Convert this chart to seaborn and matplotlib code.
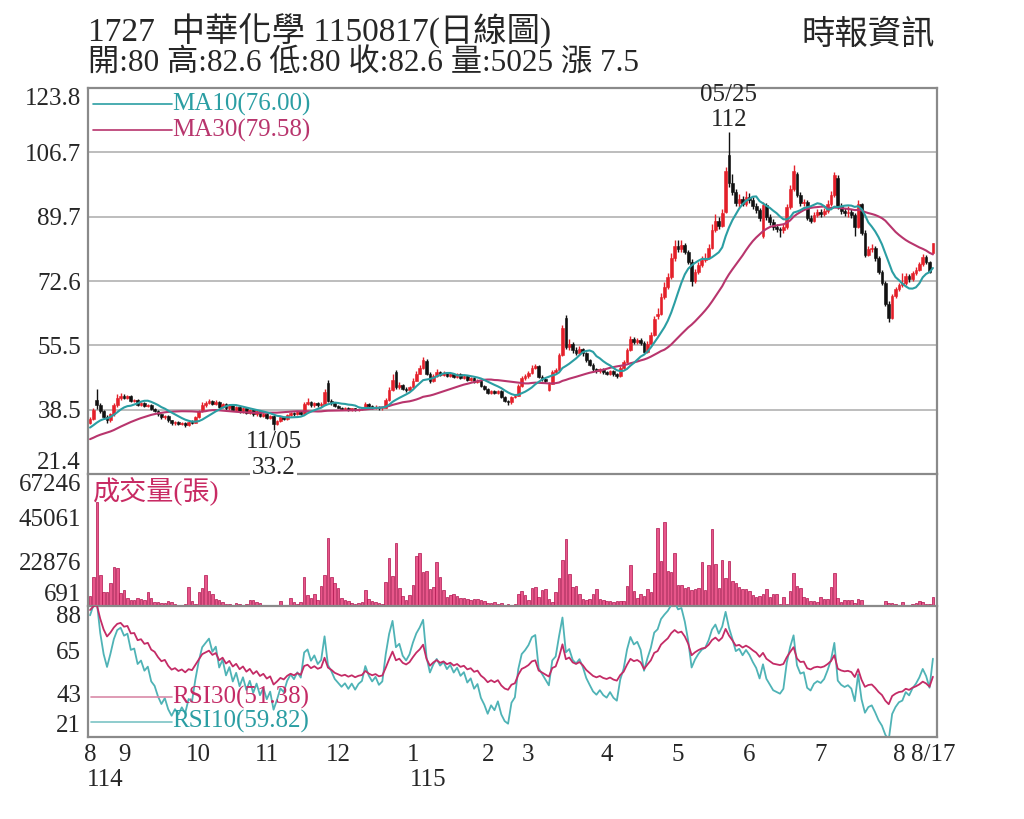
#!/usr/bin/env python3

import matplotlib

matplotlib.use("Agg")

import matplotlib.pyplot as plt
import numpy as np
import pandas as pd
import seaborn as sns

# month ticks (trading-day index) and ROC year labels
month_labels = ["8", "9", "10", "11", "12", "1", "2", "3", "4", "5", "6", "7", "8", "8/17"]
month_starts = [0, 10, 32, 52, 73, 95, 117, 129, 152, 173, 194, 215, 238, 248]
year_labels = ["114", "115"]
year_starts = [0, 95]

price_ticks = [21.4, 38.5, 55.5, 72.6, 89.7, 106.7, 123.8]
volume_ticks = [691, 22876, 45061, 67246]
rsi_ticks = [21, 43, 65, 88]

# closes before the first visible day (only feed the MA / RSI)
prior_closes = [
    26.5, 27.0, 26.7, 27.3, 27.8, 27.4, 28.0, 28.5, 28.1, 28.6,
    29.2, 28.8, 29.4, 30.0, 29.5, 30.2, 30.8, 30.4, 31.2, 31.8,
    31.4, 32.2, 32.8, 32.3, 33.0, 33.8, 33.3, 34.0, 34.8, 35.0,
]

opens = [
    # 2025-08
    35.0, 36.0, 41.0, 39.6, 38.0, 36.6, 35.6, 37.2, 39.6, 41.6,
    # 09
    42.2, 41.6, 42.0, 40.8, 41.0, 39.8, 40.2, 39.4, 39.8, 38.6,
    38.2, 37.2, 36.4, 36.8, 35.6, 34.8, 35.2, 34.6, 35.0, 34.4, 35.2, 35.0,
    # 10
    36.4, 38.0, 39.6, 40.2, 40.8, 40.0, 40.6, 39.2, 40.0, 38.8,
    39.6, 38.4, 39.2, 38.0, 38.8, 37.6, 38.4, 37.2, 38.0, 36.8,
    # 11
    37.4, 36.2, 36.8, 34.6, 35.4, 36.4, 36.0, 37.0, 37.6, 37.2,
    37.8, 37.4, 40.0, 40.4, 39.6, 40.2, 39.6, 40.0, 45.6, 40.8, 40.2,
    # 12
    39.4, 39.0, 38.6, 38.9, 38.4, 38.8, 38.3, 38.7, 38.9, 40.0,
    39.4, 39.0, 39.3, 38.8, 39.0, 41.0, 43.6, 48.4, 44.4, 45.0, 44.0, 43.6,
    # 2026-01
    44.4, 46.2, 48.0, 49.4, 51.4, 48.0, 46.0, 47.4, 48.4, 47.6,
    48.2, 47.4, 48.0, 47.2, 47.8, 47.0, 47.4, 46.4, 46.8, 45.8, 46.2, 44.8,
    # 02
    44.0, 42.8, 43.4, 42.8, 43.4, 41.8, 40.8, 40.4, 41.8, 42.2, 44.8, 46.8,
    # 03
    47.4, 48.2, 49.6, 50.0, 47.2, 46.6, 43.8, 45.4, 48.4, 49.0,
    53.0, 62.8, 55.0, 56.0, 54.2, 53.6, 54.6, 53.4, 51.6, 50.4, 49.2, 48.6, 49.2,
    # 04
    48.4, 48.0, 48.6, 47.8, 47.4, 49.6, 51.0, 54.2, 57.2, 56.4,
    57.0, 56.2, 53.8, 56.0, 58.2, 63.4, 63.8, 68.4, 71.0, 73.6, 78.6,
    # 05
    82.0, 81.0, 82.2, 80.4, 77.6, 72.6, 75.0, 76.8, 78.2, 78.8,
    81.4, 86.0, 88.6, 87.2, 91.0, 106.0, 98.6, 96.2, 93.4, 94.4, 93.0,
    # 06
    95.0, 94.0, 92.6, 91.4, 84.6, 92.8, 89.6, 88.2, 86.8, 86.4,
    86.0, 86.8, 92.2, 97.0, 101.0, 95.4, 93.2, 93.6, 89.4, 88.6, 90.2,
    # 07
    90.8, 90.4, 91.2, 93.0, 95.4, 100.0, 92.4, 91.2, 90.6, 91.0,
    90.2, 87.0, 93.0, 85.4, 79.6, 81.0, 81.4, 78.6, 75.0, 72.2, 66.6, 62.8, 68.6,
    # 08
    70.4, 71.6, 72.0, 74.0, 73.0, 74.6, 75.6, 77.0, 79.0, 77.6, 80.0,
]

closes = [
    36.0, 38.5, 39.6, 38.0, 36.6, 35.6, 37.2, 39.6, 41.6, 42.2,
    41.6, 42.0, 40.8, 41.0, 39.8, 40.2, 39.4, 39.8, 38.6, 38.2,
    37.2, 36.4, 36.8, 35.6, 34.8, 35.2, 34.6, 35.0, 34.4, 35.2, 35.0, 36.4,
    38.0, 39.6, 40.2, 40.8, 40.0, 40.6, 39.2, 40.0, 38.8, 39.6,
    38.4, 39.2, 38.0, 38.8, 37.6, 38.4, 37.2, 38.0, 36.8, 37.4,
    36.2, 36.8, 34.6, 35.4, 36.4, 36.0, 37.0, 37.6, 37.2, 37.8,
    37.4, 40.0, 40.4, 39.6, 40.2, 39.6, 40.0, 43.2, 40.8, 40.2, 39.4,
    39.0, 38.6, 38.9, 38.4, 38.8, 38.3, 38.7, 38.9, 40.0, 39.4,
    39.0, 39.3, 38.8, 39.0, 41.0, 43.6, 46.4, 44.4, 45.0, 44.0, 43.6, 44.4,
    46.2, 48.0, 49.4, 51.6, 48.0, 46.0, 47.4, 48.4, 47.6, 48.2,
    47.4, 48.0, 47.2, 47.8, 47.0, 47.4, 46.4, 46.8, 45.8, 46.2, 44.8, 44.0,
    42.8, 43.4, 42.8, 43.4, 41.8, 40.8, 40.4, 41.8, 42.2, 44.8, 46.8, 47.4,
    48.2, 49.6, 50.0, 47.2, 46.6, 46.0, 45.4, 48.4, 49.0, 53.0,
    60.0, 55.0, 56.0, 54.2, 53.6, 54.6, 53.4, 51.6, 50.4, 49.2, 48.6, 49.2, 48.4,
    48.0, 48.6, 47.8, 47.4, 49.6, 51.0, 54.2, 57.2, 56.4, 57.0,
    56.2, 53.8, 56.0, 58.2, 62.6, 63.8, 68.4, 71.0, 73.6, 78.6, 82.0,
    81.0, 82.2, 80.4, 77.6, 72.6, 75.0, 76.8, 78.2, 78.8, 81.4,
    86.0, 88.6, 87.2, 90.6, 101.8, 98.6, 96.2, 93.4, 94.4, 93.0, 95.0,
    94.0, 92.6, 91.4, 89.2, 92.8, 89.6, 88.2, 86.8, 86.4, 86.0,
    86.8, 92.2, 97.0, 101.8, 95.4, 93.2, 93.6, 89.4, 88.6, 90.2, 90.8,
    90.4, 91.2, 93.0, 95.4, 100.6, 92.4, 91.2, 90.6, 91.0, 90.2,
    87.0, 93.0, 85.4, 79.6, 81.0, 81.4, 78.6, 75.0, 72.2, 66.6, 62.8, 68.6, 70.4,
    71.6, 72.0, 74.0, 73.0, 74.6, 75.6, 77.0, 79.0, 77.6, 75.1, 82.6,
]

highs = [
    36.6, 39.0, 44.0, 40.2, 38.4, 37.0, 37.6, 40.2, 42.6, 43.0,
    42.6, 42.4, 42.3, 41.4, 41.3, 40.6, 40.5, 40.1, 40.0, 38.9,
    38.4, 37.4, 37.1, 37.0, 35.8, 35.5, 35.4, 35.3, 35.2, 35.5, 35.6, 36.8,
    38.4, 40.4, 40.8, 41.2, 41.0, 40.9, 40.8, 40.3, 40.2, 39.9,
    39.8, 39.5, 39.4, 39.1, 39.0, 38.7, 38.6, 38.3, 38.2, 37.7,
    37.6, 37.1, 37.0, 35.7, 36.7, 36.6, 37.3, 37.9, 37.9, 38.1,
    38.0, 40.6, 41.6, 40.7, 40.6, 40.4, 40.4, 44.0, 46.4, 41.2, 40.5,
    39.7, 39.3, 39.1, 39.1, 39.0, 39.0, 38.9, 39.2, 40.6, 40.3,
    39.7, 39.6, 39.5, 39.3, 41.6, 44.4, 47.8, 49.0, 45.8, 45.4, 44.4, 44.8,
    46.8, 48.6, 50.2, 52.4, 51.8, 48.4, 47.8, 49.2, 48.8, 48.6,
    48.5, 48.3, 48.3, 48.1, 48.1, 47.7, 47.7, 47.1, 47.1, 46.5, 46.4, 45.0,
    44.2, 43.7, 43.6, 43.7, 43.6, 42.0, 41.1, 42.1, 42.6, 45.4, 47.4, 48.0,
    48.8, 50.2, 50.6, 50.2, 47.6, 47.0, 45.8, 49.0, 49.6, 53.6,
    60.8, 63.6, 57.2, 56.4, 55.0, 55.4, 54.8, 53.8, 52.0, 50.8, 49.6, 49.6, 49.6,
    48.8, 49.0, 48.9, 48.2, 50.0, 51.6, 54.8, 58.0, 57.8, 57.6,
    57.4, 56.6, 56.6, 59.0, 63.4, 65.4, 69.4, 72.4, 74.6, 80.0, 83.4,
    83.6, 83.4, 82.8, 80.8, 78.4, 75.8, 77.6, 79.2, 80.0, 82.4,
    87.6, 90.4, 89.6, 91.6, 102.8, 112.0, 101.0, 97.0, 95.6, 95.2, 96.4,
    96.0, 94.8, 93.4, 92.0, 93.6, 93.2, 90.4, 89.0, 87.6, 87.0,
    87.6, 93.0, 98.0, 103.4, 101.6, 96.2, 94.4, 94.0, 90.2, 91.0, 91.6,
    91.8, 92.0, 94.0, 96.4, 101.6, 100.6, 93.2, 92.0, 92.6, 91.6,
    90.6, 94.0, 93.4, 86.0, 82.0, 82.4, 81.8, 79.2, 75.6, 72.6, 67.4, 69.2, 71.0,
    72.0, 74.6, 74.6, 74.4, 75.2, 76.2, 77.6, 79.8, 79.4, 78.0, 82.6,
]

lows = [
    34.6, 35.8, 38.6, 37.6, 36.0, 35.0, 35.2, 36.8, 39.2, 41.0,
    41.2, 41.3, 40.5, 40.5, 39.5, 39.5, 39.1, 39.1, 38.3, 37.9,
    36.9, 36.1, 36.1, 35.3, 34.4, 34.5, 34.3, 34.3, 34.0, 34.2, 34.7, 34.8,
    36.2, 37.8, 39.3, 39.9, 39.7, 39.7, 38.9, 38.9, 38.5, 38.5,
    38.1, 38.1, 37.7, 37.7, 37.3, 37.3, 36.9, 36.9, 36.5, 36.5,
    35.9, 35.9, 33.2, 34.3, 35.2, 35.7, 35.8, 36.8, 36.9, 37.0,
    37.1, 37.2, 39.7, 39.3, 39.3, 39.3, 39.3, 39.8, 40.4, 39.8, 39.1,
    38.8, 38.3, 38.3, 38.1, 38.1, 38.0, 38.0, 38.4, 38.6, 39.1,
    38.7, 38.7, 38.5, 38.5, 38.8, 40.8, 43.4, 44.0, 44.0, 43.6, 43.2, 43.3,
    44.2, 46.0, 47.8, 49.2, 47.6, 45.6, 45.7, 47.1, 47.3, 47.3,
    47.1, 47.1, 46.9, 46.9, 46.7, 46.7, 46.1, 46.1, 45.5, 45.5, 44.5, 43.7,
    42.5, 42.5, 42.5, 42.5, 41.5, 40.5, 39.7, 40.1, 41.5, 42.0, 44.6, 46.4,
    47.0, 47.8, 49.2, 46.8, 46.2, 45.6, 43.4, 45.2, 48.0, 48.8,
    52.8, 54.6, 54.4, 53.6, 53.0, 53.2, 52.8, 51.2, 50.0, 48.8, 48.2, 48.2, 48.0,
    47.6, 47.6, 47.4, 46.9, 47.2, 49.2, 50.8, 54.0, 55.8, 55.8,
    55.6, 53.4, 53.6, 55.8, 58.0, 62.4, 63.6, 67.8, 70.4, 73.2, 78.0,
    80.2, 80.4, 79.8, 77.0, 71.4, 72.0, 74.4, 76.2, 77.6, 78.4,
    81.0, 85.6, 86.4, 86.8, 90.6, 97.6, 95.4, 92.6, 92.2, 92.4, 92.6,
    93.2, 91.8, 90.6, 88.4, 84.0, 88.8, 87.4, 86.0, 85.6, 84.2,
    85.4, 86.4, 91.8, 96.6, 94.8, 92.4, 92.6, 88.8, 88.0, 88.2, 89.6,
    89.6, 89.8, 90.6, 92.6, 95.0, 91.6, 90.4, 89.8, 89.6, 89.2,
    84.6, 86.6, 84.8, 79.0, 79.2, 80.2, 78.0, 74.4, 71.6, 66.0, 61.7, 62.4, 68.0,
    70.0, 71.0, 71.6, 72.4, 72.6, 74.2, 75.2, 76.6, 77.0, 74.8, 80.0,
]

volumes = [
    5700, 15300, 53100, 16300, 7700, 7700, 12300, 20400, 20000, 7200,
    8700, 4700, 3700, 3700, 4700, 4200, 3700, 7700, 4700, 2700,
    2700, 2200, 2000, 3200, 2700, 1500, 1300, 1200, 1500, 10300, 3200, 1500,
    7700, 9700, 16300, 8200, 6700, 4200, 3700, 2700, 1700, 1700,
    1200, 2000, 1700, 1200, 1500, 3700, 3700, 2700, 2000, 1000,
    1000, 1000, 1000, 1000, 3200, 1000, 1000, 4700, 2700, 1700,
    2700, 15300, 6200, 4700, 6700, 3700, 10800, 16300, 35000, 15300, 12300,
    9700, 4700, 3700, 3200, 2000, 1700, 2000, 2700, 8700, 4200,
    3200, 2700, 2000, 1700, 12800, 24900, 15800, 32500, 9700, 5700, 3700, 6200,
    11300, 25700, 27400, 17800, 18300, 9200, 10300, 22800, 15300, 8700,
    5200, 6200, 6700, 5700, 4700, 4700, 4200, 3700, 4200, 4200, 3700, 3200,
    2400, 2000, 2700, 1500, 2000, 1200, 1500, 1200, 1500, 6700, 8200, 6200,
    3700, 9700, 10300, 5200, 8700, 9200, 4200, 2700, 7700, 15000,
    23900, 34500, 16800, 10300, 10800, 6700, 4200, 3700, 4200, 6700, 9200, 4200, 3700,
    3200, 3200, 2700, 3200, 3200, 3200, 10800, 21400, 8200, 4700,
    6700, 5700, 9200, 7700, 17300, 40000, 23400, 43000, 18300, 17800, 27400,
    11300, 11300, 9700, 10300, 8700, 9200, 9700, 22800, 8700, 21400,
    39500, 21900, 9700, 23900, 14800, 23400, 13300, 12300, 10300, 9200, 9200,
    8200, 6200, 5200, 5700, 6700, 9200, 5200, 6700, 6700, 1700,
    5200, 1500, 8200, 17300, 10800, 9700, 5200, 4700, 3200, 3200, 2700,
    5200, 4200, 4200, 10300, 17300, 4700, 2700, 3700, 3700, 3700,
    2000, 4200, 3700, 1000, 1000, 1000, 1000, 1000, 1000, 3200, 2000, 2000, 1500,
    1200, 2700, 1200, 1200, 1500, 2000, 3200, 2700, 1500, 1500, 5025,
]

RED = "#e4202a"
BLACK = "#111111"
TEAL = "#2b9ea3"
PLUM = "#b8356d"
GRAY = "#8a8a8a"


def rsi(series, n):
    delta = series.diff()
    gain = delta.clip(lower=0).ewm(alpha=1 / n, adjust=False).mean()
    loss = (-delta.clip(upper=0)).ewm(alpha=1 / n, adjust=False).mean()
    return 100 * gain / (gain + loss)


def style_axis(ax):
    for spine in ax.spines.values():
        spine.set_color(GRAY)
        spine.set_linewidth(1.6)
    ax.tick_params(axis="y", length=3, color=GRAY, labelsize=18, pad=2)
    ax.set_xlim(-0.6, len(closes) + 0.2)
    ax.set_xlabel("")
    ax.set_ylabel("")


def main():
    n = len(closes)
    for values in (opens, highs, lows, volumes):
        assert len(values) == n, len(values)

    sns.set_style("white")
    plt.rcParams["font.family"] = ["Liberation Serif", "Noto Sans CJK TC", "DejaVu Sans"]

    idx = np.arange(n)
    o = np.array(opens)
    c = np.array(closes)
    h = np.maximum(np.array(highs), np.maximum(o, c))
    lo = np.minimum(np.array(lows), np.minimum(o, c))

    history = pd.Series(prior_closes + closes)
    skip = len(prior_closes)
    ma10 = history.rolling(10).mean().to_numpy()[skip:]
    ma30 = history.rolling(30).mean().to_numpy()[skip:]
    rsi10 = rsi(history, 10).to_numpy()[skip:]
    rsi30 = rsi(history, 30).to_numpy()[skip:]

    fig = plt.figure(figsize=(10.24, 8.19), dpi=100)
    left, width = 88 / 1024, 849 / 1024
    ax_p = fig.add_axes([left, 1 - 474 / 819, width, 386 / 819])
    ax_v = fig.add_axes([left, 1 - 606 / 819, width, 132 / 819])
    ax_r = fig.add_axes([left, 1 - 737 / 819, width, 131 / 819])

    # --- price panel
    colors = [RED if cc >= oo else BLACK for oo, cc in zip(o, c)]
    ax_p.vlines(idx, lo, h, colors=colors, lw=1.0, zorder=3)
    ax_p.bar(idx, c - o, bottom=o, width=0.8, color=colors, edgecolor=colors, lw=0.4, zorder=3)
    sns.lineplot(x=idx, y=ma30, ax=ax_p, color=PLUM, lw=1.5, zorder=4)
    sns.lineplot(x=idx, y=ma10, ax=ax_p, color=TEAL, lw=1.5, zorder=4)

    ax_p.set_ylim(price_ticks[0], price_ticks[-1])
    ax_p.set_yticks(price_ticks)
    ax_p.set_yticklabels([f"{t:.1f}" for t in price_ticks])
    ax_p.grid(axis="y", color="#b8b8b8", lw=1.3)
    ax_p.set_xticks([])
    style_axis(ax_p)

    for text, y, color in [("MA10(76.00)", 0.958, TEAL), ("MA30(79.58)", 0.891, PLUM)]:
        ax_p.plot([0.006, 0.099], [y, y], transform=ax_p.transAxes, color=color, lw=1.2)
        ax_p.text(0.099, y, text, transform=ax_p.transAxes, color=color,
                  fontsize=18, va="center", ha="left")

    top = int(np.argmax(h))
    ax_p.annotate("112", xy=(top, h[top]), xytext=(0, 9), textcoords="offset points",
                  ha="center", va="center", fontsize=18)
    ax_p.annotate("05/25", xy=(top, h[top]), xytext=(0, 27), textcoords="offset points",
                  ha="center", va="center", fontsize=18)
    low_day = 54
    ax_p.annotate("11/05", xy=(low_day, lo[low_day]), xytext=(0, -9), textcoords="offset points",
                  ha="center", va="center", fontsize=18)
    ax_p.annotate("33.2", xy=(low_day, lo[low_day]), xytext=(0, -28), textcoords="offset points",
                  ha="center", va="center", fontsize=18, zorder=10, annotation_clip=False,
                  bbox=dict(boxstyle="square,pad=0.05", fc="white", ec="none"))

    # --- volume panel
    sns.barplot(x=idx, y=volumes, native_scale=True, ax=ax_v, color="#e8568a",
                edgecolor="#b0124e", linewidth=0.5, saturation=1, errorbar=None, width=0.75)
    ax_v.set_ylim(volume_ticks[0], volume_ticks[-1])
    ax_v.set_yticks(volume_ticks)
    ax_v.set_yticklabels([str(t) for t in volume_ticks])
    ax_v.set_xticks([])
    ax_v.set_facecolor("none")
    style_axis(ax_v)
    ax_v.spines["top"].set_visible(False)
    ax_v.text(0.006, 0.864, "成交量(張)", transform=ax_v.transAxes, color="#c82a63",
              fontsize=19.5, va="center", ha="left")

    # --- RSI panel
    sns.lineplot(x=idx, y=rsi10, ax=ax_r, color="#4fb3b6", lw=1.3)
    sns.lineplot(x=idx, y=rsi30, ax=ax_r, color="#c42b66", lw=1.3)
    ax_r.set_ylim(rsi_ticks[0], rsi_ticks[-1])
    ax_r.set_yticks(rsi_ticks)
    ax_r.set_yticklabels([str(t) for t in rsi_ticks])
    ax_r.set_facecolor("none")
    style_axis(ax_r)
    ax_r.spines["top"].set_visible(False)

    for text, y, color in [("RSI30(51.38)", 0.305, "#c42b66"), ("RSI10(59.82)", 0.115, "#2b9ea3")]:
        line_color = "#d98aa8" if "30" in text else "#7cc3c5"
        ax_r.plot([0.003, 0.099], [y, y], transform=ax_r.transAxes, color=line_color, lw=1.2)
        ax_r.text(0.099, y, text, transform=ax_r.transAxes, color=color,
                  fontsize=18, va="center", ha="left")

    ax_r.set_xticks(month_starts)
    ax_r.set_xticklabels(month_labels, fontsize=18)
    ax_r.set_xticks(idx, minor=True)
    ax_r.tick_params(axis="x", which="major", length=4, color=GRAY, pad=1)
    ax_r.tick_params(axis="x", which="minor", length=2, width=0.6, color=GRAY)
    for label, start in zip(year_labels, year_starts):
        ax_r.text(start - 0.8, -0.33, label, transform=ax_r.get_xaxis_transform(),
                  fontsize=18, ha="left", va="center")

    # edge labels sit inside the panel
    for ax in (ax_p, ax_v, ax_r):
        labels = ax.get_yticklabels()
        labels[0].set_va("bottom")
        labels[-1].set_va("top")

    fig.text(88 / 1024, 1 - 30 / 819, "1727  中華化學 1150817(日線圖)", fontsize=24,
             ha="left", va="center")
    fig.text(88 / 1024, 1 - 64 / 819, "開:80 高:82.6 低:80 收:82.6 量:5025 漲 7.5", fontsize=22.5,
             ha="left", va="center")
    fig.text(935 / 1024, 1 - 35 / 819, "時報資訊", fontsize=24, ha="right", va="center")

    fig.savefig("out.png", dpi=100)
    plt.close(fig)


if __name__ == "__main__":
    main()
